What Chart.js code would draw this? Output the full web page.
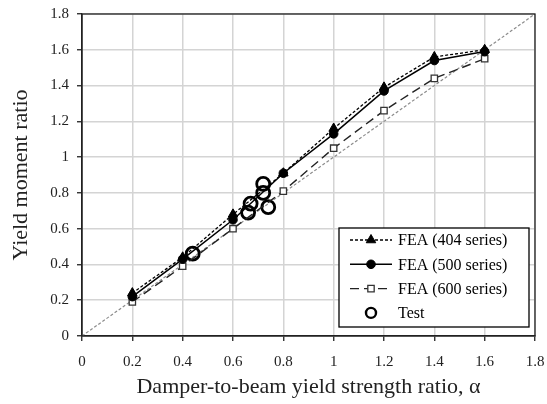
<!DOCTYPE html>
<html>
<head>
<meta charset="utf-8">
<script src="https://cdn.jsdelivr.net/npm/chart.js@4.4.0/dist/chart.umd.min.js"></script>
<style>
  html, body { margin: 0; padding: 0; background: #fff; }
  #wrap { width: 547px; height: 404px; }
</style>
</head>
<body>
<div id="wrap"><canvas id="chart"></canvas></div>
<script>
// Damper-to-beam yield strength ratio used in the FEA runs
const alpha = [0.2, 0.4, 0.6, 0.8, 1.0, 1.2, 1.4, 1.6];
const fea404 = [0.24, 0.44, 0.68, 0.91, 1.16, 1.39, 1.56, 1.60];
const fea500 = [0.22, 0.43, 0.65, 0.91, 1.13, 1.37, 1.54, 1.59];
const fea600 = [0.19, 0.39, 0.60, 0.81, 1.05, 1.26, 1.44, 1.55];

// Test specimens
const testAlpha = [0.44, 0.66, 0.67, 0.72, 0.72, 0.74];
const testRatio = [0.46, 0.69, 0.74, 0.85, 0.80, 0.72];

// 1:1 line
const diagonal = [0, 1.8];

const ticks = [0, 0.2, 0.4, 0.6, 0.8, 1, 1.2, 1.4, 1.6, 1.8];

const serif = '"Liberation Serif", "Times New Roman", serif';

function pts(xs, ys) {
  return xs.map((x, i) => ({ x: x, y: ys[i] }));
}

const series = [
  { label: 'FEA (404 series)', data: pts(alpha, fea404), borderColor: '#000', backgroundColor: '#000',
    borderWidth: 1.3, borderDash: [3, 2], pointStyle: 'triangle', pointRadius: 5.5,
    pointBorderColor: '#000', pointBackgroundColor: '#000', pointBorderWidth: 1, showLine: true },
  { label: 'FEA (500 series)', data: pts(alpha, fea500), borderColor: '#000', backgroundColor: '#000',
    borderWidth: 1.5, pointStyle: 'circle', pointRadius: 4.3,
    pointBorderColor: '#000', pointBackgroundColor: '#000', pointBorderWidth: 1, showLine: true },
  { label: 'FEA (600 series)', data: pts(alpha, fea600), borderColor: '#222', backgroundColor: '#fff',
    borderWidth: 1.4, borderDash: [9, 5], pointStyle: 'rect', pointRadius: 4.5,
    pointBorderColor: '#333', pointBackgroundColor: '#fff', pointBorderWidth: 1.3, showLine: true },
  { label: 'Test', data: pts(testAlpha, testRatio), borderColor: '#000', backgroundColor: 'rgba(0,0,0,0)',
    pointStyle: 'circle', pointRadius: 6.5, pointBorderColor: '#000', pointBackgroundColor: 'rgba(0,0,0,0)',
    pointBorderWidth: 2.8, showLine: false }
];

// frame around the plot area
const frame = {
  id: 'frame',
  afterDatasetsDraw(chart) {
    const { ctx, chartArea: a } = chart;
    ctx.save();
    ctx.strokeStyle = '#222';
    ctx.lineWidth = 1.3;
    ctx.strokeRect(a.left, a.top, a.right - a.left, a.bottom - a.top);
    ctx.restore();
  }
};

// boxed legend in the lower right, line sample with marker
const boxLegend = {
  id: 'boxLegend',
  afterDraw(chart) {
    const { ctx, chartArea: a } = chart;
    const x0 = a.right - 196, y0 = a.bottom - 108, w = 190, h = 99;
    ctx.save();
    ctx.fillStyle = '#fff';
    ctx.fillRect(x0, y0, w, h);
    ctx.strokeStyle = '#000';
    ctx.lineWidth = 1.3;
    ctx.strokeRect(x0, y0, w, h);
    ctx.font = '16px ' + serif;
    ctx.textBaseline = 'middle';
    series.forEach((s, i) => {
      const y = y0 + 12 + i * 24.3;
      const mx = x0 + 32;
      if (s.showLine) {
        ctx.strokeStyle = s.borderColor;
        ctx.lineWidth = s.borderWidth;
        ctx.setLineDash(s.borderDash || []);
        ctx.beginPath();
        ctx.moveTo(x0 + 11, y);
        ctx.lineTo(x0 + 53, y);
        ctx.stroke();
        ctx.setLineDash([]);
      }
      ctx.strokeStyle = s.pointBorderColor;
      ctx.fillStyle = s.pointBackgroundColor;
      ctx.lineWidth = s.pointBorderWidth;
      const r = s.label === 'Test' ? 5 : s.pointRadius;
      if (s.label === 'Test') ctx.lineWidth = 2.4;
      Chart.helpers.drawPoint(ctx, { pointStyle: s.pointStyle, rotation: 0, radius: r, borderWidth: ctx.lineWidth }, mx, y);
      ctx.fillStyle = '#000';
      ctx.fillText(s.label, x0 + 59, y + 1);
    });
    ctx.restore();
  }
};

const ctx = document.getElementById('chart').getContext('2d');
new Chart(ctx, {
  type: 'scatter',
  data: {
    datasets: [
      ...series,
      { label: 'y = x', data: pts(diagonal, diagonal), showLine: true, borderColor: '#8c8c8c',
        borderWidth: 1.2, borderDash: [3, 2], pointRadius: 0, order: 10 }
    ]
  },
  options: {
    responsive: true,
    maintainAspectRatio: false,
    animation: false,
    layout: { padding: { top: 14, right: 12, left: 0, bottom: 0 } },
    plugins: {
      legend: { display: false },
      tooltip: { enabled: false }
    },
    scales: {
      x: {
        type: 'linear',
        min: 0, max: 1.8,
        afterBuildTicks: axis => { axis.ticks = ticks.map(v => ({ value: v })); },
        afterFit: axis => { axis.height = 68; axis.paddingLeft = 0; axis.paddingRight = 0; },
        grid: { color: '#d4d4d4', lineWidth: 1.5, tickColor: '#222', tickLength: 5, tickWidth: 1.3 },
        border: { color: '#222', width: 1.3 },
        ticks: { color: '#222', font: { family: serif, size: 15 }, padding: 12,
          callback: v => String(Math.round(v * 10) / 10) },
        title: { display: true, text: 'Damper-to-beam yield strength ratio, α', color: '#222',
          font: { family: serif, size: 22 }, padding: { top: 0, bottom: 4 } }
      },
      y: {
        type: 'linear',
        min: 0, max: 1.8,
        afterBuildTicks: axis => { axis.ticks = ticks.map(v => ({ value: v })); },
        afterFit: axis => { axis.width = 82; axis.paddingTop = 0; axis.paddingBottom = 0; },
        grid: { color: '#d4d4d4', lineWidth: 1.5, tickColor: '#222', tickLength: 5, tickWidth: 1.3 },
        border: { color: '#222', width: 1.3 },
        ticks: { color: '#222', font: { family: serif, size: 15 }, padding: 8,
          callback: v => String(Math.round(v * 10) / 10) },
        title: { display: true, text: 'Yield moment ratio', color: '#222',
          font: { family: serif, size: 22 }, padding: { top: 8, bottom: 0 } }
      }
    }
  },
  plugins: [frame, boxLegend]
});
</script>
</body>
</html>
